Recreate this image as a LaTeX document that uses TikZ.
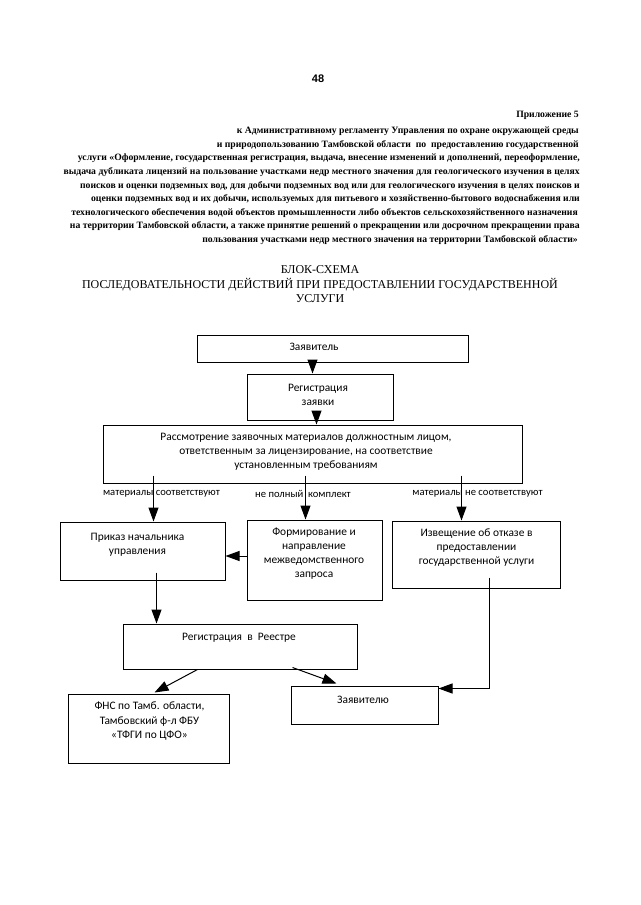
\documentclass[tikz,border=0pt]{standalone}
\usepackage{fontspec}
\setmainfont{Liberation Serif}
\newfontfamily\calfont{Carlito}
\newfontfamily\pgnfont{Liberation Sans}
\usetikzlibrary{arrows.meta,calc}
\begin{document}
\begin{tikzpicture}[x=1pt,y=-1pt,
  box/.style={draw, line width=1pt, inner sep=0pt},
  btxt/.style={font=\calfont\fontsize{11.4}{14.2}\selectfont, align=center, inner sep=0pt},
  lbl/.style={font=\calfont\fontsize{10.6}{12}\selectfont, inner sep=0pt},
  hdr/.style={font=\bfseries\fontsize{9.7}{12}\selectfont, anchor=east, inner sep=0pt},
  ttl/.style={font=\fontsize{12}{14}\selectfont, inner sep=0pt},
  arr/.style={line width=1pt, -{Triangle[length=14pt,width=10pt]}}]
\useasboundingbox (0,0) rectangle (640,905);

% page number
\node[font=\pgnfont\bfseries\fontsize{11}{13}\selectfont, inner sep=0pt] (pgnum) at (318,79) {48};

% header
\node[hdr] (h1) at (579,115) {Приложение 5};
\node[hdr] (h2) at (579,131) {к Административному регламенту Управления по охране окружающей среды};
\node[hdr] (h3) at (579,145) {и природопользованию Тамбовской области\ \ по\ \ предоставлению государственной};
\node[hdr] (h4) at (580,158) {услуги «Оформление, государственная регистрация, выдача, внесение изменений и дополнений, переоформление,};
\node[hdr] (h5) at (580,172) {выдача дубликата лицензий на пользование участками недр местного значения для геологического изучения в целях};
\node[hdr] (h6) at (580,186) {поисков и оценки подземных вод, для добычи подземных вод или для геологического изучения в целях поисков и};
\node[hdr] (h7) at (580,199) {оценки подземных вод и их добычи, используемых для питьевого и хозяйственно-бытового водоснабжения или};
\node[hdr] (h8) at (578,213) {технологического обеспечения водой объектов промышленности либо объектов сельскохозяйственного назначения};
\node[hdr] (h9) at (580,226) {на территории Тамбовской области, а также принятие решений о прекращении или досрочном прекращении права};
\node[hdr] (h10) at (578,240) {пользования участками недр местного значения на территории Тамбовской области»};

% title
\node[ttl] (t1) at (320,270) {БЛОК-СХЕМА};
\node[ttl] (t2) at (320,285) {ПОСЛЕДОВАТЕЛЬНОСТИ ДЕЙСТВИЙ ПРИ ПРЕДОСТАВЛЕНИИ ГОСУДАРСТВЕННОЙ};
\node[ttl] (t3) at (320,299) {УСЛУГИ};

% boxes
\node[box, minimum width=271, minimum height=27] (zayav) at (332.5,348.5) {};
\node[box, minimum width=146, minimum height=46] (reg) at (320,397) {};
\node[box, minimum width=419, minimum height=58] (rass) at (312.5,454) {};
\node[box, minimum width=165, minimum height=58] (prikaz) at (142.5,551) {};
\node[box, minimum width=135, minimum height=80] (form) at (314.5,560) {};
\node[box, minimum width=168, minimum height=67] (izv) at (476,554.5) {};
\node[box, minimum width=234, minimum height=45] (reestr) at (240,646.5) {};
\node[box, minimum width=147, minimum height=38] (zay2) at (364.5,705) {};
\node[box, minimum width=161, minimum height=69] (fns) at (148.5,728.5) {};

% box texts
\node[btxt] (zayav-t) at (314,347) {Заявитель};
\node[btxt] (reg-t) at (318,395) {Регистрация\\заявки};
\node[btxt] (rass-t) at (306,452) {Рассмотрение заявочных материалов должностным лицом,\\ответственным за лицензирование, на соответствие\\установленным требованиям};
\node[btxt] (prikaz-t) at (137.5,544.5) {Приказ начальника\\управления};
\node[btxt] (form-t) at (314,553.5) {Формирование и\\направление\\межведомственного\\запроса};
\node[btxt] (izv-t) at (476.5,547.5) {Извещение об отказе в\\предоставлении\\государственной услуги};
\node[btxt] (reestr-t) at (239,638) {Регистрация\ \ в\ \ Реестре};
\node[btxt] (zay2-t) at (363,700) {Заявителю};
\node[btxt] (fns-t) at (149.5,721) {ФНС по Тамб. области,\\Тамбовский ф-л ФБУ\\«ТФГИ по ЦФО»};

% branch labels
\node[lbl] (l1) at (161.5,494) {материалы соответствуют};
\node[lbl] (l2) at (303,494) {не полный\ \ комплект};
\node[lbl] (l3) at (477.5,494) {материалы не соответствуют};

% connectors
\draw[arr] ($(zayav.south west)+(116,0)$) coordinate (z1) -- (z1 |- reg.north);
\draw[arr] ($(reg.south west)+(70,0)$) coordinate (r1) -- (r1 |- rass.north);
\draw[arr] ($(rass.south west)+(51,-8)$) coordinate (q1) -- (q1 |- prikaz.north);
\draw[arr] ($(rass.south west)+(203,-8)$) coordinate (q2) -- (q2 |- form.north);
\draw[arr] ($(rass.south west)+(359,-8)$) coordinate (q3) -- (q3 |- izv.north);
\draw[arr] ($(form.west)+(0,-4)$) -- ($(prikaz.east)+(0,5)$);
\draw[arr] ($(prikaz.south west)+(97,-8)$) coordinate (p1) -- (p1 |- reestr.north);
\draw[arr] ($(reestr.south west)+(75,0)$) -- ($(fns.north west)+(87,-1)$);
\draw[arr] ($(reestr.south west)+(170,-2)$) -- ($(zay2.north west)+(46,-2)$);
\draw[arr] ($(izv.south west)+(98,-11)$) |- ($(zay2.north east)+(0,3)$);
\end{tikzpicture}
\end{document}
